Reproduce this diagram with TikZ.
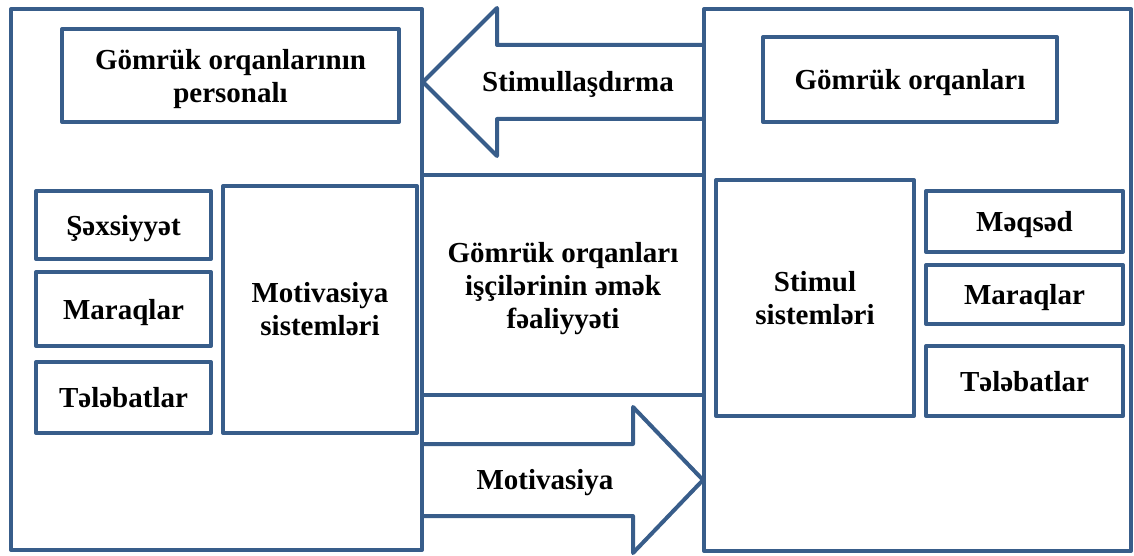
\documentclass[tikz,border=0pt]{standalone}
\usepackage{fontspec}
\setmainfont{Liberation Serif}
\usepackage{tikz}
\usetikzlibrary{positioning}
\definecolor{frameblue}{RGB}{56,93,138}

\begin{document}
\begin{tikzpicture}[
  x=1pt, y=-1pt,
  every node/.style={font=\bfseries\fontsize{29}{33}\selectfont, text centered, align=center},
  box/.style={rectangle, draw=frameblue, line width=4pt, line join=round, inner sep=0pt},
  oneline/.style={text height=26pt, text depth=6pt},
  lowtail/.style={text depth=0pt},
  blockarrow/.style={draw=frameblue, line width=4pt, line join=round}
]
\useasboundingbox (0,0) rectangle (1134,556);

% Left and right frames
\node[box, minimum width=411, minimum height=541] (leftframe) at (216.5,279.5) {};
\node[box, minimum width=427, minimum height=542] (rightframe) at (917.5,280) {};

% Centre: activity
\node[box, lowtail, minimum width=282, minimum height=220] (activity) at (563,285)
  {Gömrük orqanları\\işçilərinin əmək\\fəaliyyəti};

% Left side: personnel
\node[box, lowtail, minimum width=337, minimum height=93] (personnel) at (230.5,75.5)
  {Gömrük orqanlarının\\personalı};
\node[box, oneline, minimum width=175, minimum height=68] (person) at (123.5,225) {Şəxsiyyət};
\node[box, oneline, minimum width=175, minimum height=74] (interestL) at (123.5,309) {Maraqlar};
\node[box, oneline, minimum width=175, minimum height=71] (needsL) at (123.5,397.5) {Tələbatlar};
\node[box, minimum width=194, minimum height=247] (motivsys) at (320,309.5)
  {Motivasiya\\sistemləri};

% Right side: customs bodies
\node[box, oneline, minimum width=294, minimum height=85] (organs) at (910,79.5) {Gömrük orqanları};
\node[box, minimum width=198, minimum height=236] (stimsys) at (815,298)
  {Stimul\\sistemləri};
\node[box, oneline, minimum width=197, minimum height=61] (goal) at (1024.5,221.5) {Məqsəd};
\node[box, oneline, minimum width=197, minimum height=59] (interestR) at (1024.5,294.5) {Maraqlar};
\node[box, oneline, minimum width=197, minimum height=70] (needsR) at (1024.5,381) {Tələbatlar};

% Arrow to the left: stimulation
\draw[blockarrow] (704,45) -- (497,45) -- (497,8) -- (423,82) -- (497,156) -- (497,119) -- (704,119);
\node[oneline] (stimlabel) at (578,82) {Stimullaşdırma};

% Arrow to the right: motivation
\draw[blockarrow] (422,444) -- (633,444) -- (633,407) -- (703,480) -- (633,553) -- (633,516) -- (422,516);
\node[oneline] (motivlabel) at (545,479) {Motivasiya};

\end{tikzpicture}
\end{document}
